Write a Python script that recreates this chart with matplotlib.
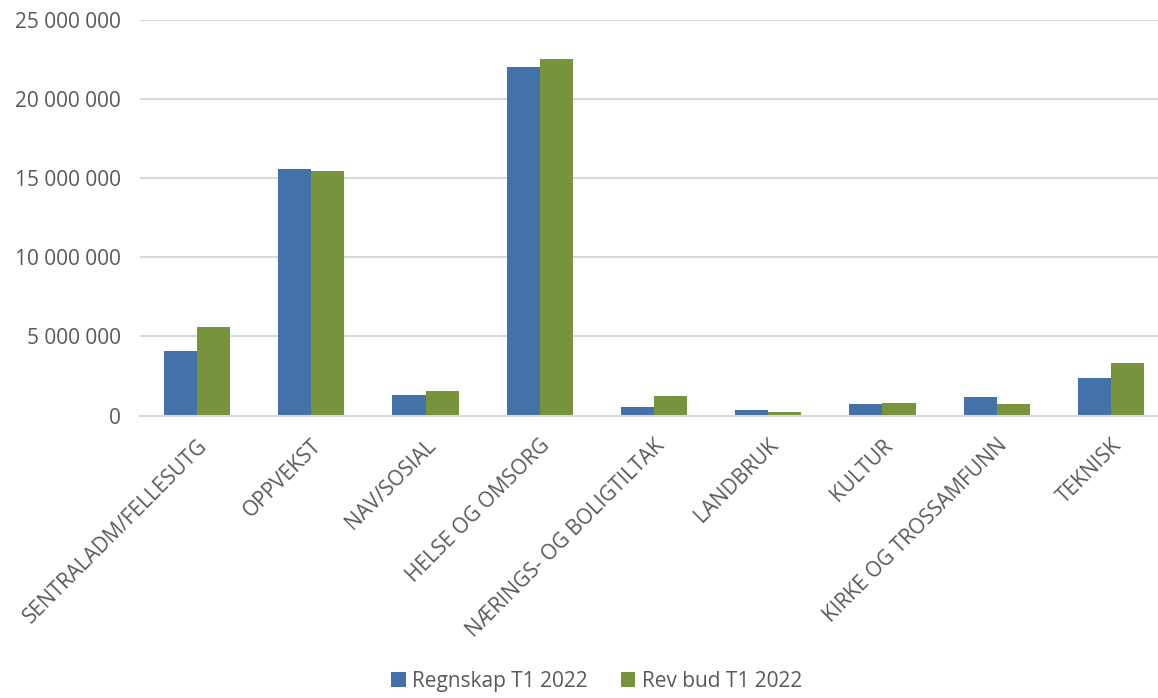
import matplotlib
matplotlib.use("Agg")
from matplotlib import pyplot as plt
import numpy as np

categories = ["SENTRALADM/FELLESUTG", "OPPVEKST", "NAV/SOSIAL", "HELSE OG OMSORG",
              "NÆRINGS- OG BOLIGTILTAK", "LANDBRUK", "KULTUR",
              "KIRKE OG TROSSAMFUNN", "TEKNISK"]
regnskap = [4080000, 15580000, 1300000, 22030000, 540000, 350000, 730000, 1170000, 2370000]
rev_bud = [5590000, 15450000, 1550000, 22530000, 1230000, 220000, 790000, 730000, 3320000]

plt.rcParams['font.family'] = ['Open Sans', 'DejaVu Sans']

W, H = 1158, 698
fig = plt.figure(figsize=(W / 100, H / 100), dpi=100)
left, right, top, bottom = 140, 1168, 20, 415.5
ax = fig.add_axes([left / W, (H - bottom) / H, (right - left) / W, (bottom - top) / H])

x = np.arange(len(categories))
w = 0.29
ax.bar(x - w / 2, regnskap, w, color="#4472a8", label="Regnskap T1 2022", zorder=3)
ax.bar(x + w / 2, rev_bud, w, color="#77933c", label="Rev bud T1 2022", zorder=3)

ax.set_xlim(-0.5, len(categories) - 0.5)
ax.set_ylim(0, 25000000)
ax.set_yticks(np.arange(0, 25000001, 5000000))
ax.set_yticklabels([f"{int(v):,}".replace(",", " ") for v in ax.get_yticks()])
ax.grid(axis="y", color="#d9d9d9", linewidth=1.5, zorder=0)
for s in ["top", "right", "left"]:
    ax.spines[s].set_visible(False)
ax.spines["bottom"].set_color("#d9d9d9")
ax.spines["bottom"].set_linewidth(1.5)
ax.spines["bottom"].set_zorder(4)

ax.tick_params(axis="y", length=0, labelsize=15, labelcolor="#595959", pad=14)
ax.tick_params(axis="x", length=0, labelsize=15, labelcolor="#595959", pad=14)
ax.set_xticks(x)
ax.set_xticklabels(categories, rotation=45, ha="right", rotation_mode="anchor")

fig.legend(loc="lower center", bbox_to_anchor=(0.515, -0.018), ncol=2, frameon=False,
           fontsize=15, labelcolor="#595959", handlelength=0.7, handleheight=0.7,
           handletextpad=0.3, columnspacing=1.6)

fig.savefig("out.png", dpi=100)
